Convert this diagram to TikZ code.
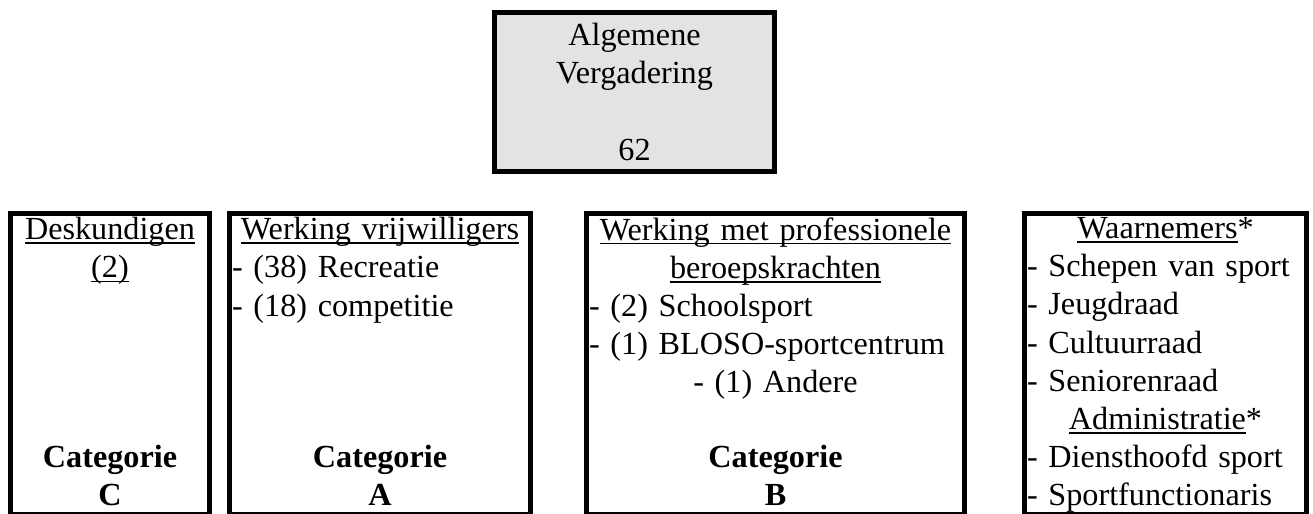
\documentclass[tikz,border=0pt]{standalone}
\usepackage{fontspec}
\setmainfont{Liberation Serif}
\definecolor{panelgray}{HTML}{E3E3E3}
\newsavebox\ulbox
\newcommand\undl[1]{\leavevmode\sbox\ulbox{#1}\rlap{\rule[-2.2pt]{\wd\ulbox}{0.9pt}}\usebox\ulbox}
\newcommand\ctr[1]{\makebox[\linewidth]{#1}}

\begin{document}
\begin{tikzpicture}[x=0.5pt,y=-0.5pt,every node/.style={font=\fontsize{16.1}{19.1}\selectfont,inner sep=0pt},frame/.style={draw,line width=2.5pt,minimum height=150.5pt},lst/.style={anchor=north,align=left},cat/.style={anchor=north,align=center,font=\fontsize{16.1}{19.1}\selectfont\bfseries}]
\useasboundingbox (0,0) rectangle (1313,514);
\node[draw,line width=2.5pt,fill=panelgray,minimum width=140pt,minimum height=79.5pt,align=center] (agm) at (634.5,92) {Algemene\\Vergadering\\[19.1pt]62};
% four groups
\node[frame,minimum width=99.5pt] (deskbox) at (110,364) {};
\node[frame,minimum width=150.5pt] (vrijbox) at (380,364) {};
\node[frame,minimum width=189pt] (probox) at (775.5,364) {};
\node[frame,minimum width=141pt] (waarbox) at (1165.5,364) {};
\node[lst,align=center,text width=97pt] (desktxt) at ([yshift=-3pt]deskbox.north) {\undl{Deskundigen}\\\undl{(2)}};
\node[lst,text width=148pt] (vrijtxt) at ([yshift=-3pt]vrijbox.north) {\ctr{\undl{Werking vrijwilligers}}\\- (38) Recreatie\\- (18) competitie};
\node[lst,text width=186.5pt] (protxt) at ([yshift=-3pt]probox.north) {\ctr{\undl{Werking met professionele}}\\\ctr{\undl{beroepskrachten}}\\- (2) Schoolsport\\- (1) BLOSO-sportcentrum\\\ctr{- (1) Andere}};
\node[lst,text width=138.5pt] (waartxt) at ([yshift=-3pt]waarbox.north) {\ctr{\undl{Waarnemers}*}\\- Schepen van sport\\- Jeugdraad\\- Cultuurraad\\- Seniorenraad\\\ctr{\undl{Administratie}*}\\- Diensthoofd sport\\- Sportfunctionaris};
\node[cat,text width=97pt] (deskcat) at ([yshift=36pt]deskbox.south) {Categorie\\C};
\node[cat,text width=148pt] (vrijcat) at ([yshift=36pt]vrijbox.south) {Categorie\\A};
\node[cat,text width=186.5pt] (procat) at ([yshift=36pt]probox.south) {Categorie\\B};
\end{tikzpicture}
\end{document}
